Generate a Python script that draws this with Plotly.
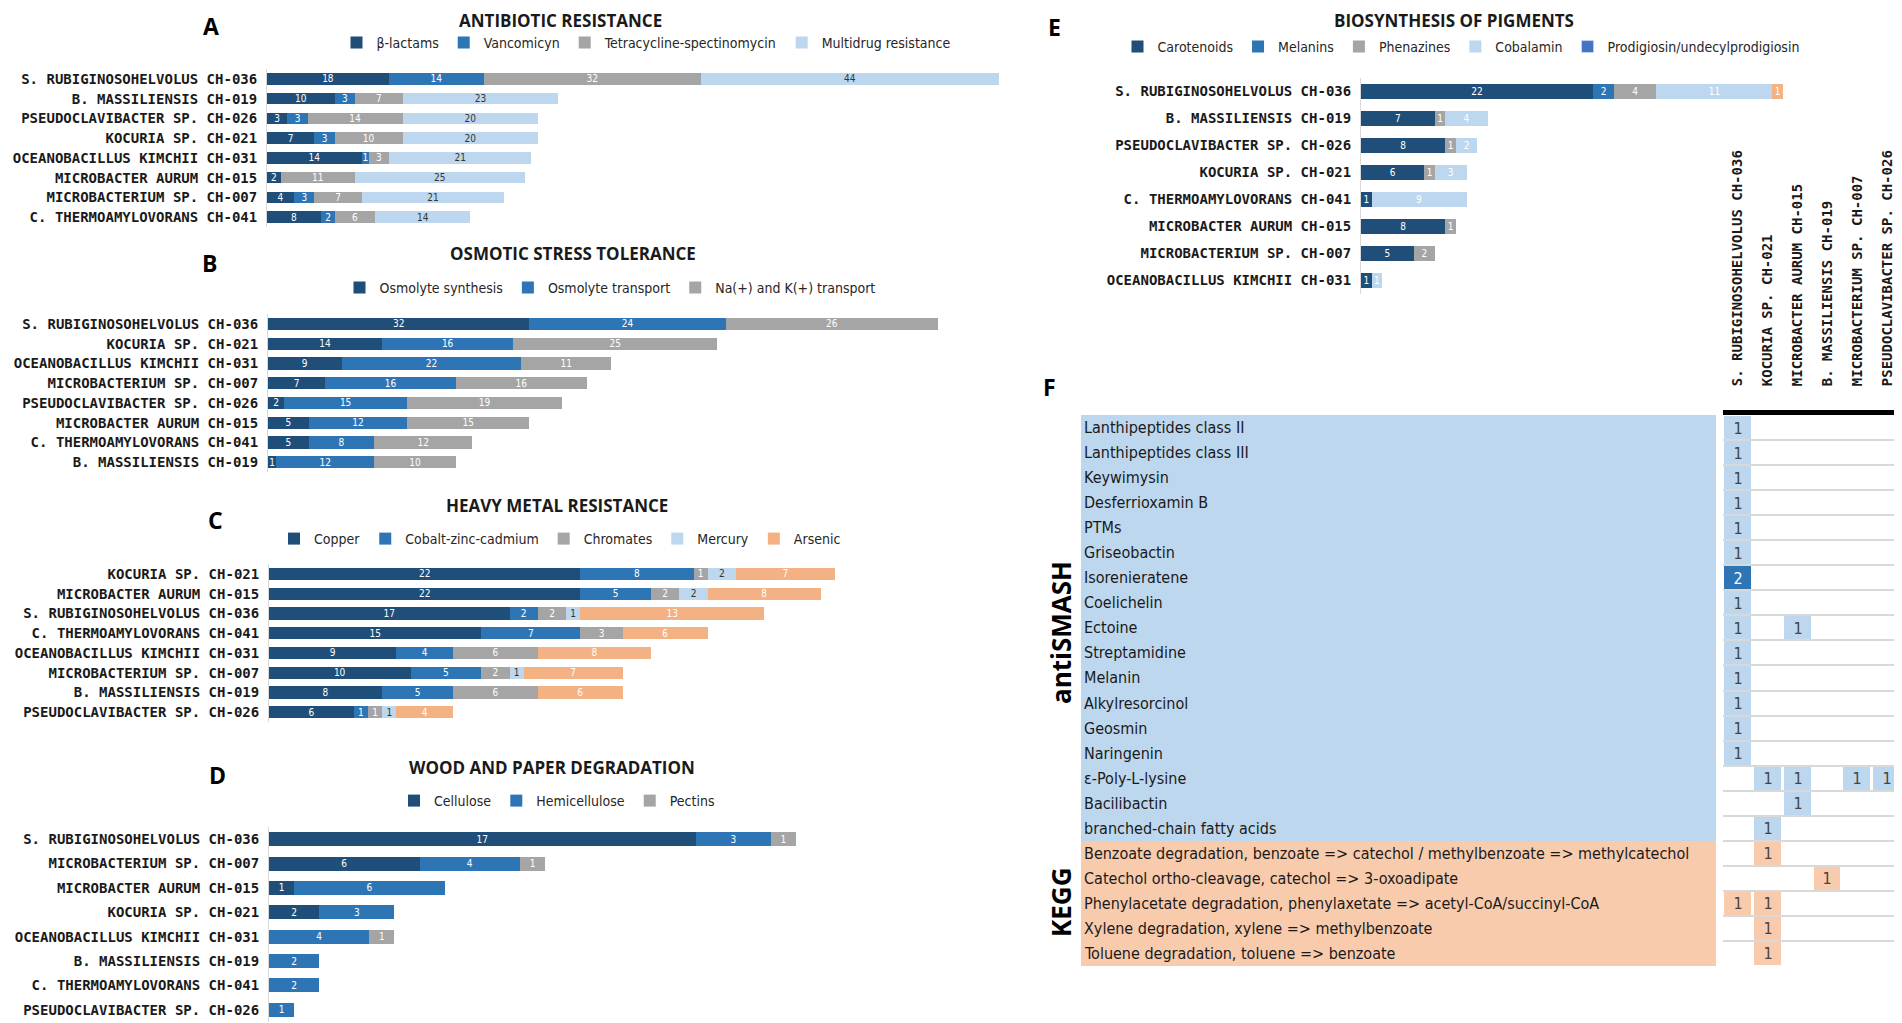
import plotly.graph_objects as go

# colours used by the original (Excel default blues / greys)
NAVY = '#1F4E79'
BLUE = '#2E75B6'
GREY = '#A5A5A5'
LIGHT = '#BDD7EE'
ORANGE = '#F4B183'
PEACH = '#F8CBAD'
PRODIG = '#4472C4'

COND = 'Liberation Sans Narrow, DejaVu Sans Condensed, Arial Narrow, sans-serif'
MONO = 'DejaVu Sans Mono, monospace'
HEAD = 'Open Sans, DejaVu Sans, sans-serif'

# page body has an 8px margin, so the figure is drawn 8px smaller than the window
OFF = 8
W, H = 1902 - OFF, 1023 - OFF

# ---- A: antibiotic resistance
a_strains = ['S. RUBIGINOSOHELVOLUS CH-036', 'B. MASSILIENSIS CH-019', 'PSEUDOCLAVIBACTER SP. CH-026',
             'KOCURIA SP. CH-021', 'OCEANOBACILLUS KIMCHII CH-031', 'MICROBACTER AURUM CH-015',
             'MICROBACTERIUM SP. CH-007', 'C. THERMOAMYLOVORANS CH-041']
a_blactams = [18, 10, 3, 7, 14, 2, 4, 8]
a_vancomicyn = [14, 3, 3, 3, 1, 0, 3, 2]
a_tetracycline = [32, 7, 14, 10, 3, 11, 7, 6]
a_multidrug = [44, 23, 20, 20, 21, 25, 21, 14]

# ---- B: osmotic stress tolerance
b_strains = ['S. RUBIGINOSOHELVOLUS CH-036', 'KOCURIA SP. CH-021', 'OCEANOBACILLUS KIMCHII CH-031',
             'MICROBACTERIUM SP. CH-007', 'PSEUDOCLAVIBACTER SP. CH-026', 'MICROBACTER AURUM CH-015',
             'C. THERMOAMYLOVORANS CH-041', 'B. MASSILIENSIS CH-019']
b_synthesis = [32, 14, 9, 7, 2, 5, 5, 1]
b_transport = [24, 16, 22, 16, 15, 12, 8, 12]
b_nak = [26, 25, 11, 16, 19, 15, 12, 10]

# ---- C: heavy metal resistance
c_strains = ['KOCURIA SP. CH-021', 'MICROBACTER AURUM CH-015', 'S. RUBIGINOSOHELVOLUS CH-036',
             'C. THERMOAMYLOVORANS CH-041', 'OCEANOBACILLUS KIMCHII CH-031', 'MICROBACTERIUM SP. CH-007',
             'B. MASSILIENSIS CH-019', 'PSEUDOCLAVIBACTER SP. CH-026']
c_copper = [22, 22, 17, 15, 9, 10, 8, 6]
c_czc = [8, 5, 2, 7, 4, 5, 5, 1]
c_chromates = [1, 2, 2, 3, 6, 2, 6, 1]
c_mercury = [2, 2, 1, 0, 0, 1, 0, 1]
c_arsenic = [7, 8, 13, 6, 8, 7, 6, 4]

# ---- D: wood and paper degradation
d_strains = ['S. RUBIGINOSOHELVOLUS CH-036', 'MICROBACTERIUM SP. CH-007', 'MICROBACTER AURUM CH-015',
             'KOCURIA SP. CH-021', 'OCEANOBACILLUS KIMCHII CH-031', 'B. MASSILIENSIS CH-019',
             'C. THERMOAMYLOVORANS CH-041', 'PSEUDOCLAVIBACTER SP. CH-026']
d_cellulose = [17, 6, 1, 2, 0, 0, 0, 0]
d_hemicellulose = [3, 4, 6, 3, 4, 2, 2, 1]
d_pectins = [1, 1, 0, 0, 1, 0, 0, 0]

# ---- E: biosynthesis of pigments
e_strains = ['S. RUBIGINOSOHELVOLUS CH-036', 'B. MASSILIENSIS CH-019', 'PSEUDOCLAVIBACTER SP. CH-026',
             'KOCURIA SP. CH-021', 'C. THERMOAMYLOVORANS CH-041', 'MICROBACTER AURUM CH-015',
             'MICROBACTERIUM SP. CH-007', 'OCEANOBACILLUS KIMCHII CH-031']
e_carotenoids = [22, 7, 8, 6, 1, 8, 5, 1]
e_melanins = [2, 0, 0, 0, 0, 0, 0, 0]
e_phenazines = [4, 1, 1, 1, 0, 1, 2, 0]
e_cobalamin = [11, 4, 2, 3, 9, 0, 0, 1]
e_prodigiosin = [1, 0, 0, 0, 0, 0, 0, 0]

# ---- F: antiSMASH / KEGG clusters
f_strains = ['S. RUBIGINOSOHELVOLUS CH-036', 'KOCURIA SP. CH-021', 'MICROBACTER AURUM CH-015',
             'B. MASSILIENSIS CH-019', 'MICROBACTERIUM SP. CH-007', 'PSEUDOCLAVIBACTER SP. CH-026']
f_features = ['Lanthipeptides class II', 'Lanthipeptides class III', 'Keywimysin', 'Desferrioxamin B',
              'PTMs', 'Griseobactin', 'Isorenieratene', 'Coelichelin', 'Ectoine', 'Streptamidine',
              'Melanin', 'Alkylresorcinol', 'Geosmin', 'Naringenin', 'ε-Poly-L-lysine', 'Bacilibactin',
              'branched-chain fatty acids',
              'Benzoate degradation, benzoate => catechol / methylbenzoate => methylcatechol',
              'Catechol ortho-cleavage, catechol => 3-oxoadipate',
              'Phenylacetate degradation, phenylaxetate => acetyl-CoA/succinyl-CoA',
              'Xylene degradation, xylene => methylbenzoate',
              'Toluene degradation, toluene => benzoate']
f_source = ['antiSMASH'] * 17 + ['KEGG'] * 5
f_counts = [
    [1, 0, 0, 0, 0, 0],
    [1, 0, 0, 0, 0, 0],
    [1, 0, 0, 0, 0, 0],
    [1, 0, 0, 0, 0, 0],
    [1, 0, 0, 0, 0, 0],
    [1, 0, 0, 0, 0, 0],
    [2, 0, 0, 0, 0, 0],
    [1, 0, 0, 0, 0, 0],
    [1, 0, 1, 0, 0, 0],
    [1, 0, 0, 0, 0, 0],
    [1, 0, 0, 0, 0, 0],
    [1, 0, 0, 0, 0, 0],
    [1, 0, 0, 0, 0, 0],
    [1, 0, 0, 0, 0, 0],
    [0, 1, 1, 0, 1, 1],
    [0, 0, 1, 0, 0, 0],
    [0, 1, 0, 0, 0, 0],
    [0, 1, 0, 0, 0, 0],
    [0, 0, 0, 1, 0, 0],
    [1, 1, 0, 0, 0, 0],
    [0, 1, 0, 0, 0, 0],
    [0, 1, 0, 0, 0, 0],
]


# positions below are measured on the 1902x1023 screenshot
def px_x(x):
    return min(1.0, (x - OFF) / W)


def px_y(y):
    return min(1.0, 1 - (y - OFF) / H)


fig = go.Figure()


def add_panel(n, strains, series, legend, xdom, ydom, barw):
    # n = axis number, series = list of (name, values, colour, label colour)
    xa = 'x' if n == 1 else 'x%d' % n
    ya = 'y' if n == 1 else 'y%d' % n
    for name, vals, col, tcol in series:
        fig.add_trace(go.Bar(
            y=strains, x=vals, name=name, orientation='h', xaxis=xa, yaxis=ya,
            marker=dict(color=col, line=dict(width=0)), width=barw,
            text=[str(v) if v else '' for v in vals], textposition='inside',
            insidetextanchor='middle', textangle=0, constraintext='none',
            textfont=dict(family=COND, size=10, color=tcol),
            legend=legend, hoverinfo='x+name'))
    totals = [sum(t) for t in zip(*[s[1] for s in series])]
    sx = 'xaxis' if n == 1 else 'xaxis%d' % n
    sy = 'yaxis' if n == 1 else 'yaxis%d' % n
    fig.layout[sx] = dict(domain=[px_x(xdom[0]), px_x(xdom[1])], range=[0, max(totals)],
                          visible=False, anchor=ya)
    fig.layout[sy] = dict(domain=[px_y(ydom[1]), px_y(ydom[0])], autorange='reversed',
                          anchor=xa, showline=True, linecolor='#d9d9d9', linewidth=1,
                          ticks='', showgrid=False, ticklabelstandoff=6,
                          tickfont=dict(family=MONO, size=14, color='#1a1a1a', weight='bold'))


add_panel(1, a_strains, [('β-lactams', a_blactams, NAVY, 'white'),
                         ('Vancomicyn', a_vancomicyn, BLUE, 'white'),
                         ('Tetracycline-spectinomycin', a_tetracycline, GREY, 'white'),
                         ('Multidrug resistance', a_multidrug, LIGHT, '#333333')],
          'legend', (267, 999), (69, 227), 0.58)
add_panel(2, b_strains, [('Osmolyte synthesis', b_synthesis, NAVY, 'white'),
                         ('Osmolyte transport', b_transport, BLUE, 'white'),
                         ('Na(+) and K(+) transport', b_nak, GREY, 'white')],
          'legend2', (268, 938), (314, 472), 0.62)
add_panel(3, c_strains, [('Copper', c_copper, NAVY, 'white'),
                         ('Cobalt-zinc-cadmium', c_czc, BLUE, 'white'),
                         ('Chromates', c_chromates, GREY, 'white'),
                         ('Mercury', c_mercury, LIGHT, '#333333'),
                         ('Arsenic', c_arsenic, ORANGE, 'white')],
          'legend3', (269, 835), (564, 722), 0.62)
add_panel(4, d_strains, [('Cellulose', d_cellulose, NAVY, 'white'),
                         ('Hemicellulose', d_hemicellulose, BLUE, 'white'),
                         ('Pectins', d_pectins, GREY, 'white')],
          'legend4', (269, 796), (827, 1022), 0.57)
add_panel(5, e_strains, [('Carotenoids', e_carotenoids, NAVY, 'white'),
                         ('Melanins', e_melanins, BLUE, 'white'),
                         ('Phenazines', e_phenazines, GREY, 'white'),
                         ('Cobalamin', e_cobalamin, LIGHT, 'white'),
                         ('Prodigiosin/undecylprodigiosin', e_prodigiosin, ORANGE, 'white')],
          'legend5', (1361, 1783), (78, 294), 0.56)

# the original legend shows a blue swatch for prodigiosin although the bar is orange
fig.data[-1].showlegend = False
fig.add_trace(go.Bar(y=[None], x=[None], orientation='h', name='Prodigiosin/undecylprodigiosin',
                     marker_color=PRODIG, xaxis='x5', yaxis='y5', legend='legend5'))

# ---- F: label column as full-width bars, counts as heatmap
rows = list(range(len(f_features)))
fig.add_trace(go.Bar(
    y=rows, x=[1] * len(rows), orientation='h', width=1, xaxis='x7', yaxis='y7',
    marker=dict(color=[LIGHT if s == 'antiSMASH' else PEACH for s in f_source], line=dict(width=0)),
    text=f_features, textposition='inside', insidetextanchor='start', textangle=0,
    constraintext='none', textfont=dict(family=COND, size=16, color='#1a1a1a'),
    showlegend=False, hoverinfo='skip'))

f_code = [[0 if v == 0 else (3 if src == 'KEGG' else v) for v in row]
          for row, src in zip(f_counts, f_source)]
f_text = [[str(v) if v else '' for v in row] for row in f_counts]
fig.add_trace(go.Heatmap(
    z=f_code, x=f_strains, y=rows, text=f_text, texttemplate='%{text}',
    textfont=dict(family=COND, size=16), xaxis='x8', yaxis='y8',
    zmin=0, zmax=3, showscale=False, xgap=3, ygap=2, hoverinfo='skip',
    colorscale=[[0, 'white'], [0.17, 'white'], [0.17, LIGHT], [0.5, LIGHT],
                [0.5, BLUE], [0.83, BLUE], [0.83, PEACH], [1, PEACH]]))

f_top, f_bot = 415, 966
fig.update_layout(
    xaxis7=dict(domain=[px_x(1081), px_x(1716)], range=[0, 1], visible=False, anchor='y7'),
    yaxis7=dict(domain=[px_y(f_bot), px_y(f_top)], range=[len(rows) - 0.5, -0.5],
                visible=False, anchor='x7'),
    xaxis8=dict(domain=[px_x(1723), 1.0], side='top', tickangle=-90, anchor='y8',
                showline=True, linecolor='black', linewidth=5, ticks='', showgrid=False,
                ticklabelstandoff=21,
                tickfont=dict(family=MONO, size=14, color='#1a1a1a', weight='bold')),
    yaxis8=dict(domain=[px_y(f_bot), px_y(f_top)], range=[len(rows) - 0.5, -0.5],
                anchor='x8', showticklabels=False, ticks='', zeroline=False,
                showgrid=True, gridcolor='#d9d9d9', gridwidth=1.5, tick0=0.5, dtick=1),
)

# legends, one per panel
leg_common = dict(orientation='h', xanchor='center', yanchor='middle', bgcolor='rgba(0,0,0,0)',
                  font=dict(family=COND, size=14, color='#262626'), itemwidth=30,
                  traceorder='normal')
fig.update_layout(
    legend=dict(leg_common, x=px_x(646), y=px_y(43)),
    legend2=dict(leg_common, x=px_x(610), y=px_y(288)),
    legend3=dict(leg_common, x=px_x(560), y=px_y(539)),
    legend4=dict(leg_common, x=px_x(557), y=px_y(801)),
    legend5=dict(leg_common, x=px_x(1461), y=px_y(47)),
)

annots = []
for letter, x, y in [('A', 211, 26), ('B', 209, 263), ('C', 215, 520), ('D', 217, 775),
                     ('E', 1054, 27), ('F', 1049, 387)]:
    annots.append(dict(text=letter, x=px_x(x), y=px_y(y), xref='paper', yref='paper',
                       xanchor='center', yanchor='middle', showarrow=False,
                       font=dict(family=HEAD, size=23, color='black', weight='bold')))
for title, x, y in [('ANTIBIOTIC RESISTANCE', 560, 20), ('OSMOTIC STRESS TOLERANCE', 573, 253),
                    ('HEAVY METAL RESISTANCE', 557, 505), ('WOOD AND PAPER DEGRADATION', 552, 767),
                    ('BIOSYNTHESIS OF PIGMENTS', 1454, 20)]:
    annots.append(dict(text=title, x=px_x(x), y=px_y(y), xref='paper', yref='paper',
                       xanchor='center', yanchor='middle', showarrow=False,
                       font=dict(family=HEAD, size=17, color='#1a1a1a', weight='bold')))
for grp, x, y in [('antiSMASH', 1061, 633), ('KEGG', 1061, 903)]:
    annots.append(dict(text=grp, x=px_x(x), y=px_y(y), xref='paper', yref='paper', textangle=-90,
                       xanchor='center', yanchor='middle', showarrow=False,
                       font=dict(family=HEAD, size=26, color='black', weight='bold')))

fig.update_layout(
    width=W, height=H, margin=dict(l=0, r=0, t=0, b=0),
    paper_bgcolor='white', plot_bgcolor='white',
    barmode='stack', annotations=annots,
)

fig.write_html("out.html")
